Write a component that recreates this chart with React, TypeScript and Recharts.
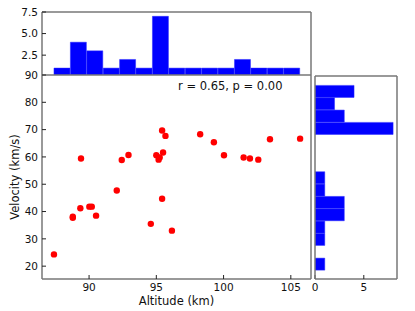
import React from 'react';
import { BarChart, Bar, ScatterChart, Scatter, XAxis, YAxis } from 'recharts';

// meteor points
const altitude = [
    89.4, 92.43, 92.93, 95.0, 95.17, 95.25, 95.5, 95.43, 95.68, 98.26, 99.28, 100.03, 101.49, 101.96,
    102.58, 103.45, 105.69, 87.39, 88.79, 88.79, 89.35, 90.02, 90.2, 90.52, 92.06, 95.43, 94.59, 96.16,
];
const velocity = [
    59.4, 58.9, 60.7, 60.6, 59.0, 59.8, 61.6, 69.7, 67.7, 68.3, 65.4, 60.6, 59.8, 59.4,
    59.0, 66.5, 66.7, 24.3, 38.1, 37.7, 41.2, 41.8, 41.8, 38.5, 47.7, 44.7, 35.5, 33.0,
];

// marginal histograms (bin centres + counts)
const altBinCenters = [88.0, 89.22, 90.44, 91.66, 92.88, 94.1, 95.32, 96.54, 97.76, 98.98, 100.2, 101.42, 102.64, 103.86, 105.08];
const altBinCounts = [1, 4, 3, 1, 2, 1, 7, 1, 1, 1, 1, 2, 1, 1, 1];
const velBinCenters = [25.81, 28.84, 31.87, 34.89, 37.92, 40.95, 43.97, 47.0, 50.03, 53.05, 56.08, 59.11, 62.13, 65.16, 68.19];
const velBinCounts = [1, 0, 1, 1, 3, 3, 1, 1, 0, 0, 0, 8, 3, 2, 4];

const altTicks = [90, 95, 100, 105];
const velTicks = [20, 30, 40, 50, 60, 70, 80, 90];
const topCountTicks = [2.5, 5.0, 7.5];
const sideCountTicks = [0, 5];
const sideVelTicks = [30, 40, 50, 60, 70];

const points = altitude.map((a, i) => ({ alt: a, vel: velocity[i] }));
const topData = altBinCenters.map((c, i) => ({ alt: c, count: altBinCounts[i] }));
const sideData = velBinCenters.map((c, i) => ({ vel: c, count: velBinCounts[i] }));

const FRAME = { stroke: '#777', strokeWidth: 1.5 };
const TICKLINE = { stroke: '#222', strokeWidth: 1 };
const TICK = { fontSize: 10.5, fill: '#111' };
const BLUE = '#0000ff';
const EDGE = '#2a2aff';

const Dot = (props: any) => <circle cx={props.cx} cy={props.cy} r={3.2} fill="#ff0000" />;

const App: React.FC = () => {
    return (
        <div
            style={{
                position: 'absolute',
                left: 0,
                top: 0,
                width: 415,
                height: 311,
                background: '#fff',
                fontFamily: '"DejaVu Sans", sans-serif',
            }}
        >
            {/* top histogram */}
            <div style={{ position: 'absolute', left: 0, top: 0 }}>
                <BarChart
                    width={415}
                    height={311}
                    data={topData}
                    margin={{ top: 11, right: 103, bottom: 236, left: 0 }}
                    barCategoryGap={0}
                    barGap={0}
                >
                    <XAxis type="number" dataKey="alt" domain={[86.5, 106.5]} allowDataOverflow hide />
                    <XAxis xAxisId="top" orientation="top" type="number" domain={[86.5, 106.5]} height={1} tick={false} tickLine={false} axisLine={FRAME} />
                    <YAxis
                        type="number"
                        domain={[0.2, 7.5]}
                        allowDataOverflow
                        ticks={topCountTicks}
                        tickFormatter={(v: number) => v.toFixed(1)}
                        width={42}
                        tickSize={-4}
                        tickMargin={8}
                        tick={TICK}
                        tickLine={TICKLINE}
                        axisLine={FRAME}
                        interval={0}
                    />
                    <YAxis yAxisId="right" orientation="right" type="number" domain={[0, 7.5]} width={1} tick={false} tickLine={false} axisLine={FRAME} />
                    <Bar dataKey="count" fill={BLUE} stroke={EDGE} strokeWidth={0.5} isAnimationActive={false} />
                </BarChart>
            </div>

            {/* scatter */}
            <div style={{ position: 'absolute', left: 0, top: 0 }}>
                <ScatterChart width={415} height={311} margin={{ top: 74, right: 103, bottom: 0, left: 0 }}>
                    <XAxis
                        type="number"
                        dataKey="alt"
                        domain={[86.5, 106.5]}
                        allowDataOverflow
                        ticks={altTicks}
                        interval={0}
                        height={32}
                        tickSize={-4}
                        tickMargin={9}
                        tick={TICK}
                        tickLine={TICKLINE}
                        axisLine={FRAME}
                        label={(p: any) => (
                            <text x={p.viewBox.x + p.viewBox.width / 2} y={p.viewBox.y + 26} textAnchor="middle" fontSize={11.5} fill="#111">
                                Altitude (km)
                            </text>
                        )}
                    />
                    <XAxis xAxisId="top" orientation="top" type="number" domain={[86.5, 106.5]} ticks={altTicks} interval={0} height={1} tickSize={-4} tick={false} tickLine={TICKLINE} axisLine={FRAME} />
                    <YAxis
                        type="number"
                        dataKey="vel"
                        domain={[15.3, 90]}
                        allowDataOverflow
                        ticks={velTicks}
                        interval={0}
                        width={42}
                        tickSize={-4}
                        tickMargin={8}
                        tick={TICK}
                        tickLine={TICKLINE}
                        axisLine={FRAME}
                        label={(p: any) => {
                            const cx = 14.5;
                            const cy = p.viewBox.y + p.viewBox.height / 2;
                            return (
                                <text x={cx} y={cy} transform={`rotate(-90, ${cx}, ${cy})`} textAnchor="middle" dominantBaseline="central" fontSize={11.5} fill="#111">
                                    Velocity (km/s)
                                </text>
                            );
                        }}
                    />
                    <YAxis yAxisId="right" orientation="right" type="number" domain={[15.3, 90]} ticks={velTicks} interval={0} width={1} tickSize={-4} tick={false} tickLine={TICKLINE} axisLine={FRAME} />
                    <Scatter data={points} shape={<Dot />} isAnimationActive={false} />
                </ScatterChart>
            </div>

            {/* side histogram */}
            <div style={{ position: 'absolute', left: 0, top: 0 }}>
                <BarChart
                    layout="vertical"
                    width={415}
                    height={311}
                    data={sideData}
                    margin={{ top: 75, right: 17, bottom: 0, left: 314 }}
                    barCategoryGap={0}
                    barGap={0}
                >
                    <XAxis
                        type="number"
                        domain={[0, 8.4]}
                        allowDataOverflow
                        ticks={sideCountTicks}
                        interval={0}
                        height={32}
                        tickSize={-4}
                        tickMargin={9}
                        tick={TICK}
                        tickLine={TICKLINE}
                        axisLine={FRAME}
                    />
                    <XAxis xAxisId="top" orientation="top" type="number" domain={[0, 8.4]} height={1} tick={false} tickLine={false} axisLine={FRAME} />
                    <YAxis
                        type="number"
                        dataKey="vel"
                        domain={[22.2, 72]}
                        reversed
                        allowDataOverflow
                        ticks={sideVelTicks}
                        interval={0}
                        width={1}
                        tickSize={-4}
                        tick={false}
                        tickLine={TICKLINE}
                        axisLine={FRAME}
                    />
                    <YAxis yAxisId="right" orientation="right" type="number" domain={[22.2, 72]} width={1} tick={false} tickLine={false} axisLine={FRAME} />
                    <Bar dataKey="count" fill={BLUE} stroke={EDGE} strokeWidth={0.5} isAnimationActive={false} />
                </BarChart>
            </div>

            <div style={{ position: 'absolute', left: 178, top: 80, fontSize: 11.5, lineHeight: '13px', color: '#111', whiteSpace: 'nowrap' }}>
                r = 0.65, p = 0.00
            </div>
        </div>
    );
};

export default App;
